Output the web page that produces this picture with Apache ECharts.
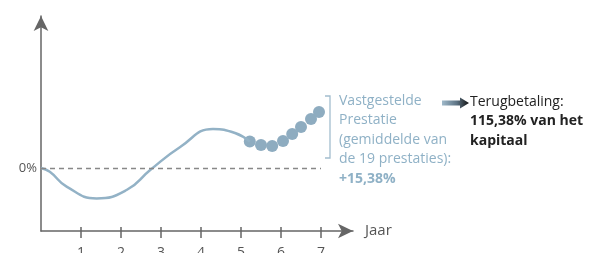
<!DOCTYPE html>
<html lang="nl">
<head>
	<meta charset="UTF-8">
	<title>Terugbetaling</title>
	<script src="https://cdn.jsdelivr.net/npm/echarts@6/dist/echarts.min.js"></script>
	<style>
		html, body { margin: 0; padding: 0; background: #fff; }
		#main { width: 597px; height: 253px; }
	</style>
</head>
<body>
	<div id="main"></div>
	<script>
		// curve: [jaar, waarde]
		var curve = [
			[0, 0], [0.22, -1.9], [0.64, -9.3], [1.39, -15.2], [2.14, -11], [2.73, -1],
			[3.48, 10.5], [4.3, 19.5], [4.85, 17.5], [5.22, 13.2]
		];
		// de vastgestelde prestaties (bolletjes)
		var dots = [
			[5.22, 13.2], [5.5, 11.5], [5.78, 11], [6.05, 13.5],
			[6.28, 17], [6.5, 20.5], [6.75, 24.5], [6.95, 28]
		];
		var yearTicks = [1, 2, 3, 4, 5, 6, 7];
		var zeroLabel = '0%';

		var blue = '#93b2c6';
		var dotBlue = '#8eacc0';
		var axisGrey = '#666';
		var font = '"Open Sans", sans-serif';

		var chart = echarts.init(document.getElementById('main'));

		var option = {
			animation: false,
			grid: { left: 41, right: 244, top: 16, bottom: 22, containLabel: false, outerBoundsMode: 'none' },
			xAxis: [
				{
					type: 'value',
					min: 0,
					max: 7.8,
					name: 'Jaar',
					nameLocation: 'end',
					nameGap: 12,
					nameTextStyle: { color: '#555', fontSize: 15, fontFamily: font, padding: [5, 0, 0, 0] },
					axisLine: { onZero: false, lineStyle: { color: axisGrey, width: 1.5 }, symbol: ['none', 'arrow'], symbolSize: [11, 15] },
					axisTick: { show: true, length: 7, lineStyle: { color: axisGrey, width: 1.5 }, customValues: yearTicks },
					axisLabel: { margin: 15, color: '#555', fontSize: 14, fontFamily: font, customValues: yearTicks },
					splitLine: { show: false }
				},
				{
					type: 'value',
					min: 0,
					max: 7.8,
					position: 'bottom',
					axisLine: { show: false, onZero: false },
					axisTick: { show: true, inside: true, length: 4, lineStyle: { color: axisGrey, width: 1.5 }, customValues: yearTicks },
					axisLabel: { show: false },
					splitLine: { show: false }
				}
			],
			yAxis: {
				type: 'value',
				min: -31.5,
				max: 76,
				axisLine: { show: true, onZero: false, lineStyle: { color: axisGrey, width: 1.5 }, symbol: ['none', 'arrow'], symbolSize: [11, 15] },
				axisTick: { show: false },
				axisLabel: { color: '#555', fontSize: 13, fontFamily: font, margin: 4, customValues: [0], formatter: function () { return zeroLabel; } },
				splitLine: { show: false }
			},
			series: [
				{
					type: 'line',
					data: curve,
					smooth: 0.5,
					showSymbol: false,
					lineStyle: { color: blue, width: 2.5 },
					markLine: {
						silent: true,
						symbol: 'none',
						label: { show: false },
						lineStyle: { color: '#888', type: [5, 4], width: 1.3 },
						data: [[{ coord: [0, 0] }, { coord: [7, 0] }]]
					}
				},
				{
					type: 'scatter',
					data: dots,
					symbolSize: 12,
					itemStyle: { color: dotBlue, opacity: 1 }
				}
			],
			graphic: [
				// haakje
				{ type: 'polyline', shape: { points: [[325, 96], [330, 96], [330, 158], [325, 158]] }, style: { stroke: '#a3bdce', lineWidth: 1.3, fill: null } },
				{
					type: 'text', left: 339, top: 94,
					style: {
						text: '{a|Vastgestelde}\n{a|Prestatie}\n{a|(gemiddelde van}\n{a|de 19 prestaties):}\n{b|+15,38%}',
						rich: {
							a: { fontSize: 14, fontFamily: font, fill: '#8fb1c6', lineHeight: 19.5 },
							b: { fontSize: 14, fontFamily: font, fill: '#8fb1c6', fontWeight: 'bold', lineHeight: 19.5 }
						}
					}
				},
				// pijl
				{
					type: 'polygon',
					shape: { points: [[442, 100.5], [460, 100.5], [460, 97.5], [469, 103], [460, 108.5], [460, 105.5], [442, 105.5]] },
					style: {
						fill: new echarts.graphic.LinearGradient(0, 0, 1, 0, [
							{ offset: 0, color: '#9fb9ca' },
							{ offset: 0.55, color: '#5d7384' },
							{ offset: 1, color: '#111' }
						])
					}
				},
				{
					type: 'text', left: 470, top: 95,
					style: {
						text: '{a|Terugbetaling:}\n{b|115,38% van het}\n{b|kapitaal}',
						rich: {
							a: { fontSize: 14, fontFamily: font, fill: '#222', lineHeight: 19.5 },
							b: { fontSize: 14, fontFamily: font, fill: '#222', fontWeight: 'bold', lineHeight: 19.5 }
						}
					}
				}
			]
		};

		chart.setOption(option);
	</script>
</body>
</html>
